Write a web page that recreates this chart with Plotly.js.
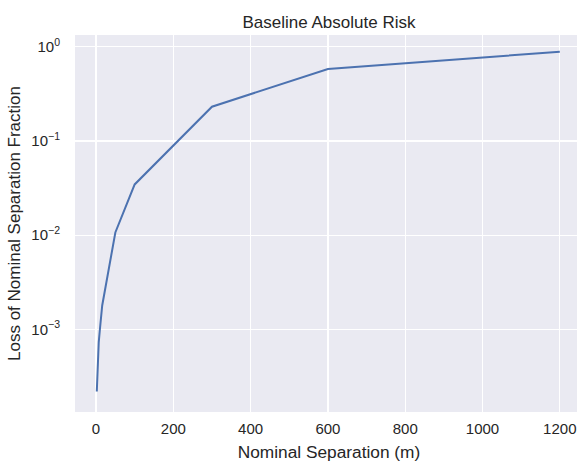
<!DOCTYPE html>
<html>
<head>
<meta charset="utf-8">
<script src="https://cdn.plot.ly/plotly-3.0.1.min.js"></script>
<style>
html, body { margin: 0; padding: 0; overflow: hidden; background: #fff; }
#chart { width: 583px; height: 466px; }
</style>
</head>
<body>
<div id="chart"></div>
<script>
// Data
const separation = [2, 3, 5, 7, 10, 13, 16, 50, 100, 300, 600, 1200];
const lossFraction = [0.00022, 0.00032, 0.00055, 0.00073, 0.0010, 0.0014, 0.0018, 0.0107, 0.0346, 0.231, 0.58, 0.885];
const xTickVals = [0, 200, 400, 600, 800, 1000, 1200];
const yTickVals = [0.001, 0.01, 0.1, 1];
const yTickText = ['10<sup>\u22123</sup>', '10<sup>\u22122</sup>', '10<sup>\u22121</sup>', '10<sup>0</sup>'];

const textColor = '#262626';
const fontFam = 'Liberation Sans, Arial, sans-serif';

Plotly.newPlot('chart', [{
  x: separation,
  y: lossFraction,
  type: 'scatter',
  mode: 'lines',
  line: { color: '#4C72B0', width: 2 },
  hoverinfo: 'skip'
}], {
  width: 583,
  height: 466,
  margin: { l: 75, r: 0, t: 35, b: 54 },
  paper_bgcolor: '#ffffff',
  plot_bgcolor: '#EAEAF2',
  showlegend: false,
  font: { family: fontFam, color: textColor, size: 15 },
  title: {
    text: 'Baseline Absolute Risk',
    font: { family: fontFam, color: textColor, size: 17 },
    x: 0.5, xref: 'paper', xanchor: 'center',
    y: 1, yref: 'paper', yanchor: 'bottom', pad: { b: 7 }
  },
  xaxis: {
    range: [-54.4, 1260],
    tickvals: xTickVals,
    ticks: '',
    ticklabelstandoff: 6,
    showgrid: true, gridcolor: '#ffffff', gridwidth: 1.3,
    zeroline: false, showline: false,
    tickfont: { size: 15, color: textColor },
    title: { text: 'Nominal Separation (m)', font: { size: 17.3, color: textColor }, standoff: 9 },
    automargin: false
  },
  yaxis: {
    type: 'log',
    range: [-3.875, 0.124],
    tickvals: yTickVals,
    ticktext: yTickText,
    ticks: '',
    ticklabelstandoff: 14,
    showgrid: true, gridcolor: '#ffffff', gridwidth: 1.3,
    zeroline: false, showline: false,
    tickfont: { size: 15, color: textColor },
    title: { text: 'Loss of Nominal Separation Fraction', font: { size: 17, color: textColor }, standoff: 6 },
    automargin: false
  }
}, { staticPlot: true, displayModeBar: false });
</script>
</body>
</html>
